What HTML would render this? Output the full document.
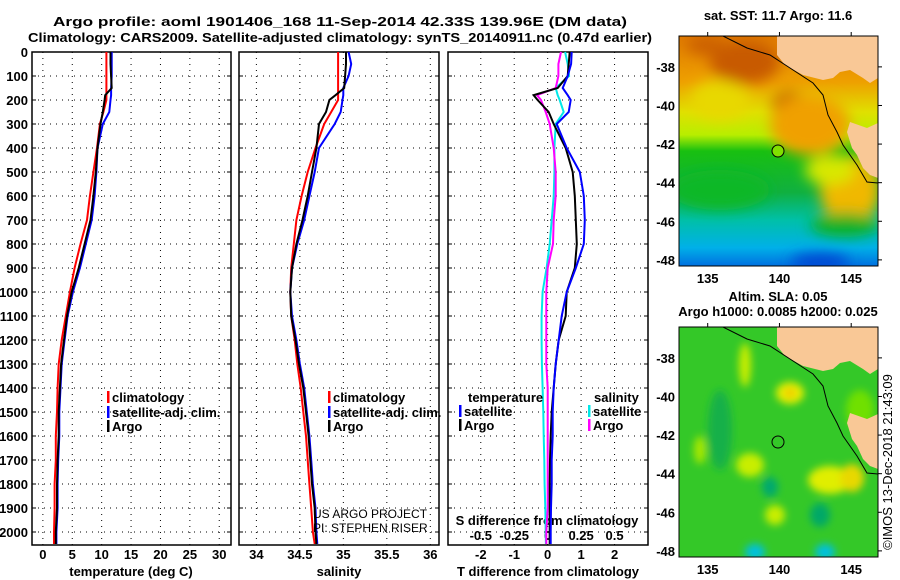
<!DOCTYPE html>
<html><head><meta charset="utf-8"><style>
html,body{margin:0;padding:0;background:#fff;}
svg{display:block;font-family:"Liberation Sans",Arial,sans-serif;}
.b{font-weight:bold;font-size:13px;}
</style></head><body>
<svg id="fig" width="900" height="580" viewBox="0 0 900 580" xmlns="http://www.w3.org/2000/svg">
<defs>
 <linearGradient id="sstg" x1="0" y1="0" x2="0" y2="1">
  <stop offset="0" stop-color="#e07a00"/><stop offset="0.2" stop-color="#eea000"/>
  <stop offset="0.33" stop-color="#e0e000"/><stop offset="0.43" stop-color="#b8ee00"/>
  <stop offset="0.5" stop-color="#18c010"/><stop offset="0.68" stop-color="#10b040"/>
  <stop offset="0.8" stop-color="#00c0a8"/><stop offset="0.92" stop-color="#00b0e8"/>
  <stop offset="1" stop-color="#0070e0"/></linearGradient>
 <filter id="bl" x="-50%" y="-50%" width="200%" height="200%"><feGaussianBlur stdDeviation="7"/></filter>
 <filter id="bl2" x="-50%" y="-50%" width="200%" height="200%"><feGaussianBlur stdDeviation="4"/></filter>
 <clipPath id="c1"><rect x="679" y="36" width="199" height="230"/></clipPath>
 <clipPath id="c2"><rect x="679" y="327" width="199" height="230"/></clipPath>
</defs>
<g>
<text x="340" y="26" text-anchor="middle" class="b" font-size="14" textLength="574" lengthAdjust="spacingAndGlyphs">Argo profile: aoml 1901406_168 11-Sep-2014 42.33S 139.96E (DM data)</text>
<text x="340" y="42" text-anchor="middle" class="b" font-size="14" textLength="624" lengthAdjust="spacingAndGlyphs">Climatology: CARS2009. Satellite-adjusted climatology: synTS_20140911.nc (0.47d earlier)</text>
</g>
<g id="plots"></g>
<g id="maps">
 <text x="778" y="20" text-anchor="middle" class="b">sat. SST: 11.7 Argo: 11.6</text>
 <g clip-path="url(#c1)">
  <rect x="679" y="36" width="199" height="230" fill="url(#sstg)"/>
  <g filter="url(#bl)">
   <ellipse cx="745" cy="62" rx="35" ry="22" fill="#c85a00"/>
   <ellipse cx="706" cy="45" rx="20" ry="10" fill="#cc6000"/>
   <ellipse cx="790" cy="105" rx="18" ry="14" fill="#c86000"/>
   <ellipse cx="810" cy="125" rx="40" ry="30" fill="#f0a000"/>
   <ellipse cx="850" cy="190" rx="30" ry="35" fill="#f0b800"/>
   <ellipse cx="830" cy="170" rx="25" ry="15" fill="#d8e800"/>
   <ellipse cx="845" cy="225" rx="35" ry="12" fill="#10b020"/>
   <ellipse cx="720" cy="100" rx="30" ry="20" fill="#e8d800"/>
   <ellipse cx="720" cy="190" rx="50" ry="20" fill="#10b828"/>
   <ellipse cx="820" cy="262" rx="30" ry="8" fill="#0040d0"/>
  </g>
  <polygon points="777,36 878,36 878,78 870,83 863,78 850,70 840,72 833,78 823,80 803,75 785,65 777,55" fill="#f9c896"/>
  <polygon points="878,123 867,128 850,122 847,132 852,148 857,155 863,168 870,175 878,178" fill="#f9c896"/>
  <polyline points="723,36 747,48 770,55 790,68 813,83 823,95 828,115 837,132 843,145 857,165 867,182 878,183" fill="none" stroke="#000" stroke-width="1"/>
  <circle cx="778" cy="151" r="6" fill="#80e000" stroke="#000" stroke-width="1"/>
 </g>
 <rect x="679" y="36" width="199" height="230" fill="none" stroke="#000"/>
 <text x="778" y="301" text-anchor="middle" class="b">Altim. SLA: 0.05</text>
 <text x="778" y="316" text-anchor="middle" class="b">Argo h1000: 0.0085 h2000: 0.025</text>
 <g clip-path="url(#c2)">
  <rect x="679" y="327" width="199" height="230" fill="#34c828"/>
  <g filter="url(#bl2)">
   <ellipse cx="790" cy="393" rx="14" ry="11" fill="#e8f000"/>
   <ellipse cx="790" cy="393" rx="6" ry="5" fill="#f0c800"/>
   <ellipse cx="830" cy="480" rx="22" ry="14" fill="#e0ee00"/>
   <ellipse cx="852" cy="478" rx="12" ry="14" fill="#e8d800"/>
   <ellipse cx="745" cy="365" rx="6" ry="22" fill="#c8ee00"/>
   <ellipse cx="750" cy="465" rx="14" ry="12" fill="#c8ee00"/>
   <ellipse cx="775" cy="515" rx="10" ry="10" fill="#c8ee00"/>
   <ellipse cx="700" cy="450" rx="6" ry="14" fill="#a8e800"/>
   <ellipse cx="770" cy="487" rx="8" ry="10" fill="#00a870"/>
   <ellipse cx="755" cy="552" rx="10" ry="8" fill="#00c0e0"/>
   <ellipse cx="825" cy="552" rx="10" ry="8" fill="#00c0e0"/>
   <ellipse cx="820" cy="515" rx="10" ry="12" fill="#00a868"/>
   <ellipse cx="720" cy="430" rx="12" ry="40" fill="#18b048"/>
   <ellipse cx="860" cy="410" rx="14" ry="20" fill="#70e000"/>
  </g>
  <polygon points="777,327 878,327 878,369 870,374 863,369 850,361 840,363 833,369 823,371 803,366 785,356 777,346" fill="#f9c896"/>
  <polygon points="878,414 867,419 850,413 847,423 852,439 857,446 863,459 870,466 878,469" fill="#f9c896"/>
  <polyline points="723,327 747,339 770,346 790,359 813,374 823,386 828,406 837,423 843,436 857,456 867,473 878,474" fill="none" stroke="#000" stroke-width="1"/>
  <circle cx="778" cy="442" r="6" fill="none" stroke="#000" stroke-width="1"/>
 </g>
 <rect x="679" y="327" width="199" height="230" fill="none" stroke="#000"/>
 <text transform="translate(892,462) rotate(-90)" text-anchor="middle" font-size="13">©IMOS 13-Dec-2018 21:43:09</text>
</g>
<script>
const depths=[0,50,100,150,180,200,250,300,400,500,600,700,800,900,1000,1100,1200,1300,1400,1500,1600,1700,1800,1900,2000,2050];
const tempArgo=[11.5,11.5,11.6,11.7,10.6,10.5,10.2,9.8,9.3,9.0,8.6,8.1,7.1,6.1,4.9,4.1,3.6,3.1,2.9,2.7,2.7,2.5,2.4,2.4,2.2,2.2];
const tempClim=[10.8,10.8,10.8,10.8,10.8,10.8,10.3,9.7,9.2,8.6,8.0,7.5,6.4,5.4,4.6,3.9,3.2,2.7,2.5,2.4,2.2,2.2,2.0,2.0,1.9,1.9];
const tempSat=[11.7,11.7,11.7,11.6,11.6,11.5,11.3,10.2,9.3,9.1,8.8,8.3,7.3,6.3,5.1,4.2,3.7,3.2,3.0,2.8,2.8,2.6,2.5,2.5,2.3,2.3];
const salArgo=[35.03,35.03,35.02,35.01,34.91,34.84,34.80,34.72,34.69,34.64,34.59,34.53,34.46,34.41,34.39,34.40,34.45,34.49,34.54,34.57,34.60,34.62,34.64,34.67,34.68,34.69];
const salClim=[34.94,34.94,34.94,34.94,34.94,34.94,34.86,34.78,34.68,34.59,34.52,34.46,34.43,34.40,34.39,34.40,34.44,34.47,34.51,34.54,34.57,34.59,34.61,34.63,34.65,34.67];
const salSat=[35.06,35.09,35.06,35.00,35.00,34.99,34.97,34.90,34.72,34.67,34.61,34.55,34.47,34.41,34.39,34.41,34.46,34.50,34.55,34.58,34.61,34.63,34.65,34.68,34.69,34.70];
const dTArgo=[0.66,0.63,0.6,0.3,-0.42,-0.3,0.03,0.18,0.54,0.75,0.81,0.84,0.87,0.81,0.57,0.54,0.33,0.24,0.18,0.12,0.09,0.07,0.06,0.06,0.06,0.06];
const dTSat=[0.72,0.7,0.6,0.45,0.6,0.69,0.63,0.27,0.57,0.96,1.08,1.11,1.08,0.84,0.57,0.42,0.33,0.24,0.18,0.15,0.15,0.12,0.12,0.1,0.09,0.09];
const dSArgo=[0.1,0.08,0.08,0.06,-0.08,-0.05,-0.015,0.015,0.045,0.06,0.06,0.045,0.04,0,-0.01,-0.01,-0.01,-0.01,0,0,0,0,0,0,-0.01,-0.01];
const dSSat=[0.13,0.15,0.16,0.06,0.075,0.09,0.12,0.06,0.05,0.05,0.045,0.03,0.015,-0.008,-0.038,-0.045,-0.045,-0.043,-0.038,-0.033,-0.03,-0.025,-0.023,-0.018,-0.015,-0.013];
const depthTicks=[0,100,200,300,400,500,600,700,800,900,1000,1100,1200,1300,1400,1500,1600,1700,1800,1900,2000];
const tempTicks=[0,5,10,15,20,25,30];
const salTicks=[34,34.5,35,35.5,36];
const salTickLabels=["34","34.5","35","35.5","36"];
const dTTicks=[-2,-1,0,1,2];
const dSTicks=[-0.5,-0.25,0,0.25,0.5];
const dSTickLabels=["-0.5","-0.25","0","0.25","0.5"];

const NS='http://www.w3.org/2000/svg';
const root=document.getElementById('plots');
const TOP=52,BOT=545;
const yD=d=>TOP+d*0.24;
function el(tag,attrs,parent,txt){const e=document.createElementNS(NS,tag);for(const k in attrs)e.setAttribute(k,attrs[k]);if(txt!==undefined)e.textContent=txt;(parent||root).appendChild(e);return e;}
const panels=[
 {x0:32,x1:231,lo:-1.85,hi:32,name:'temperature'},
 {x0:239,x1:439,lo:33.8,hi:36.1,name:'salinity'},
 {x0:448,x1:648,lo:-2.98,hi:3.0,name:'difference'}];
function xs(p){return v=>p.x0+(v-p.lo)/(p.hi-p.lo)*(p.x1-p.x0);}
const xT=xs(panels[0]),xS=xs(panels[1]),xDT=xs(panels[2]);
const xDS=v=>xDT(v*4);
panels.forEach((p,i)=>{
 const g=el('g',{});
 
 
 depthTicks.forEach(d=>{const l=el('line',{x1:p.x0,x2:p.x1,y1:yD(d),y2:yD(d),stroke:'#000','stroke-width':1,'stroke-dasharray':'1,5'},g);
  
  el('line',{x1:p.x1-4,x2:p.x1,y1:yD(d),y2:yD(d),stroke:'#000'},g);
  el('line',{x1:p.x0,x2:p.x0+4,y1:yD(d),y2:yD(d),stroke:'#000'},g);});
 const ticks=i==0?tempTicks:i==1?salTicks:dTTicks;const sx=i==0?xT:i==1?xS:xDT;
 ticks.forEach((t,j)=>{const l=el('line',{x1:sx(t),x2:sx(t),y1:TOP,y2:BOT,stroke:'#000','stroke-dasharray':'1,5'},g);
  
  const tx=el('text',{x:sx(t),y:559,'text-anchor':'middle',class:'b'},g,i==1?salTickLabels[j]:String(t));
  });
 const fr=el('rect',{x:p.x0,y:TOP,width:p.x1-p.x0,height:BOT-TOP,fill:'none',stroke:'#000','stroke-width':1.5},g);
 
});
depthTicks.forEach(d=>{const t=el('text',{x:28,y:yD(d)+5,'text-anchor':'end',class:'b'},root,String(d));
 });
[[131,'temperature (deg C)'],[339,'salinity'],[548,'T difference from climatology']].forEach(a=>{
 const t=el('text',{x:a[0],y:576,'text-anchor':'middle',class:'b'},root,a[1]);
 });
const st=el('text',{x:547,y:525,'text-anchor':'middle',class:'b'},root,'S difference from climatology');

dSTicks.forEach((t,j)=>{const tx=el('text',{x:xDS(t),y:540,'text-anchor':'middle',class:'b'},root,dSTickLabels[j]);
 });
function line(vals,sx,color,name){
 const pts=vals.map((v,i)=>sx(v).toFixed(1)+','+yD(depths[i]).toFixed(1)).join(' ');
 const pl=el('polyline',{points:pts,fill:'none',stroke:color,'stroke-width':2});
 
 }
line(tempClim,xT,'#f00','temp-climatology-line');
line(tempSat,xT,'#00f','temp-satellite-line');
line(tempArgo,xT,'#000','temp-argo-line');
line(salClim,xS,'#f00','sal-climatology-line');
line(salSat,xS,'#00f','sal-satellite-line');
line(salArgo,xS,'#000','sal-argo-line');
line(dSSat,xDS,'#00e8e8','sdiff-satellite-line');
line(dSArgo,xDS,'#f0f','sdiff-argo-line');
line(dTArgo,xDT,'#000','tdiff-argo-line');
line(dTSat,xDT,'#00f','tdiff-satellite-line');
function leg(x,y,color,label,name){const g=el('g',{});
 
 if(color)el('rect',{x:x,y:y-11,width:2.5,height:12,fill:color},g);
 el('text',{x:x+(color?5:0),y:y,class:'b'},g,label);}
leg(107,402,'#f00','climatology','legend-climatology');
leg(107,417,'#00f','satellite-adj. clim.','legend-satellite');
leg(107,431,'#000','Argo','legend-argo');
leg(328,402,'#f00','climatology','legend-climatology-2');
leg(328,417,'#00f','satellite-adj. clim.','legend-satellite-2');
leg(328,431,'#000','Argo','legend-argo-2');
leg(468,402,null,'temperature','legend-temperature-header');
leg(459,416,'#00f','satellite','legend-t-satellite');
leg(459,430,'#000','Argo','legend-t-argo');
leg(594,402,null,'salinity','legend-salinity-header');
leg(588,416,'#00e8e8','satellite','legend-s-satellite');
leg(588,430,'#f0f','Argo','legend-s-argo');
const c1=el('text',{x:313,y:518,'font-size':12},root,'US ARGO PROJECT');

const c2=el('text',{x:313,y:532,'font-size':12},root,'PI: STEPHEN RISER');

const mg=document.getElementById('maps');
const lats=[-38,-40,-42,-44,-46,-48];const lons=[135,140,145];
[[36,266],[327,557]].forEach((r,k)=>{
 lats.forEach(la=>{const y=r[0]+(-36.4-la)*19.3;
  const t=el('text',{x:675,y:y+5,'text-anchor':'end',class:'b'},mg,String(la));
  
  el('line',{x1:878,x2:882,y1:y,y2:y,stroke:'#000'},mg);});
 lons.forEach(lo=>{const x=679+(lo-133)*14.35;
  const t=el('text',{x:x,y:r[1]+17,'text-anchor':'middle',class:'b'},mg,String(lo));
  
  el('line',{x1:x,x2:x,y1:r[0]-4,y2:r[0],stroke:'#000'},mg);});
});
</script>
</svg>
</body></html>
